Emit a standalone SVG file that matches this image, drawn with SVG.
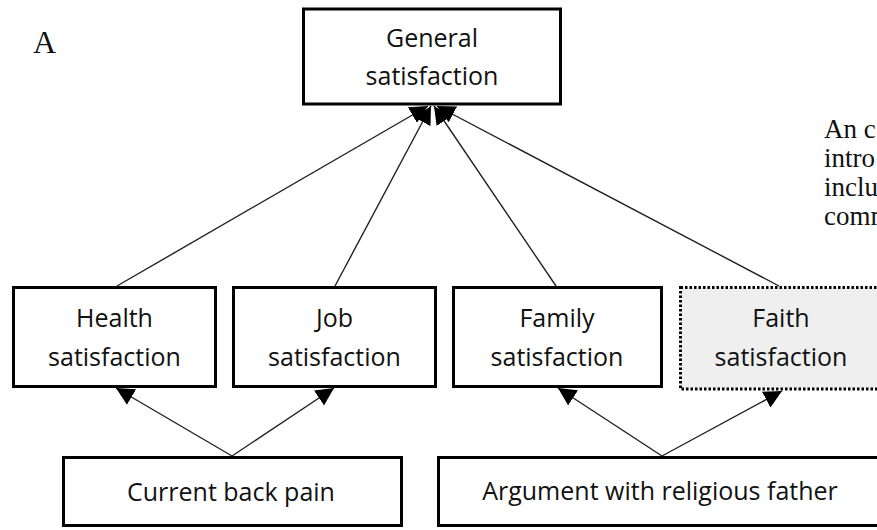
<svg xmlns="http://www.w3.org/2000/svg" width="877" height="530" viewBox="0 0 877 530">
<defs>
<style>
.box{fill:#fff;stroke:#000;stroke-width:3}
.dot{fill:#efefef;stroke:#000;stroke-width:3;stroke-dasharray:2.5 2}
.lbl{font-family:"Open Sans","Liberation Sans",sans-serif;font-size:25px;fill:#111;text-anchor:middle}
.serif{font-family:"Liberation Serif","Times New Roman",serif;fill:#111}
.con{stroke:#222;stroke-width:1.4;fill:none;marker-end:url(#ah)}
</style>
<marker id="ah" markerUnits="userSpaceOnUse" viewBox="0 0 18 18" markerWidth="18" markerHeight="18" refX="18" refY="9" orient="auto">
<path d="M0,0 L18,9 L0,18 z" fill="#000"/>
</marker>
</defs>
<rect width="877" height="530" fill="#fff"/>
<text class="serif" x="33" y="53" font-size="32">A</text>
<g class="serif" font-size="27">
<text x="824" y="138">An c</text>
<text x="824" y="167">intro</text>
<text x="824" y="196">inclu</text>
<text x="824" y="225">comm</text>
</g>
<g id="general"><rect class="box" x="303.5" y="9" width="257" height="95"/><text class="lbl" x="432" y="47">General</text><text class="lbl" x="432" y="85">satisfaction</text></g>
<g id="health"><rect class="box" x="13.5" y="287.5" width="202" height="99"/><text class="lbl" x="114.5" y="327">Health</text><text class="lbl" x="114.5" y="366">satisfaction</text></g>
<g id="job"><rect class="box" x="233.5" y="287.5" width="202" height="99"/><text class="lbl" x="334.5" y="327">Job</text><text class="lbl" x="334.5" y="366">satisfaction</text></g>
<g id="family"><rect class="box" x="453.5" y="287.5" width="208" height="99"/><text class="lbl" x="557" y="327">Family</text><text class="lbl" x="557" y="366">satisfaction</text></g>
<g id="faith"><rect class="dot" x="680.5" y="287.5" width="203" height="101.5"/><text class="lbl" x="781" y="327">Faith</text><text class="lbl" x="781" y="366">satisfaction</text></g>
<g id="backpain"><rect class="box" x="63.5" y="457.5" width="338" height="68"/><text class="lbl" x="231" y="501">Current back pain</text></g>
<g id="argument"><rect class="box" x="438.5" y="457.5" width="460" height="68"/><text class="lbl" x="660" y="500">Argument with religious father</text></g>
<g id="connectors">
<path class="con" d="M232,456 L116,388"/>
<path class="con" d="M232,456 L334,388"/>
<path class="con" d="M662,456 L558,388"/>
<path class="con" d="M662,456 L782,391"/>
<path class="con" d="M117,286 L428,106"/>
<path class="con" d="M335,286 L431,106"/>
<path class="con" d="M556,286 L434,106"/>
<path class="con" d="M779,286 L437,106"/>
</g>
</svg>
